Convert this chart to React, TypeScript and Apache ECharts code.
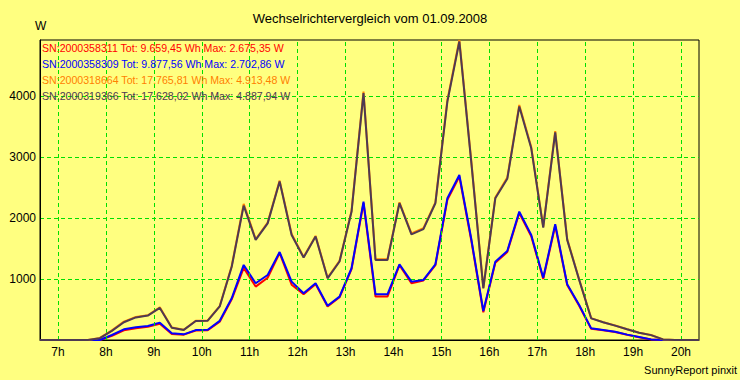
import React, { useEffect, useRef } from "react";
import * as echarts from "echarts";

const FONT = "'Liberation Sans', Arial, sans-serif";

const times = [
  "06:37:30", "06:52:30", "07:07:30", "07:22:30", "07:37:30", "07:52:30",
  "08:07:30", "08:22:30", "08:37:30", "08:52:30", "09:07:30", "09:22:30", "09:37:30", "09:52:30",
  "10:07:30", "10:22:30", "10:37:30", "10:52:30", "11:07:30", "11:22:30", "11:37:30", "11:52:30",
  "12:07:30", "12:22:30", "12:37:30", "12:52:30", "13:07:30", "13:22:30", "13:37:30", "13:52:30",
  "14:07:30", "14:22:30", "14:37:30", "14:52:30", "15:07:30", "15:22:30", "15:37:30", "15:52:30",
  "16:07:30", "16:22:30", "16:37:30", "16:52:30", "17:07:30", "17:22:30", "17:37:30", "17:52:30",
  "18:07:30", "18:22:30", "18:37:30", "18:52:30", "19:07:30", "19:22:30", "19:37:30", "19:52:30",
  "20:07:30", "20:22:30",
];

const sn311 = [
  0, 0, 0, 0, 0, 0,
  70, 160, 192, 215, 265, 98, 88, 155, 160, 300,
  665, 1180, 875, 1020, 1425, 905, 750, 915, 548, 700,
  1160, 2240, 712, 712, 1225, 930, 975, 1225, 2295, 2675.35,
  1625, 455, 1265, 1440, 2080, 1700, 1000, 1870, 900, 560,
  185, 160, 130, 85, 45, 8, 0, 0, 0, 0,
];
const sn309 = [
  0, 0, 0, 0, 0, 0,
  82, 175, 208, 230, 284, 109, 93, 162, 167, 314,
  683, 1229, 929, 1065, 1440, 956, 765, 929, 562, 710,
  1175, 2267, 749, 749, 1240, 956, 983, 1240, 2322, 2702.86,
  1650, 475, 1283, 1459, 2103, 1721, 1021, 1896, 913, 574,
  191, 164, 136, 88, 50, 10, 0, 0, 0, 0,
];
const sn664 = [
  0, 0, 0, 0, 0, 35,
  160, 300, 378, 405, 535, 205, 168, 316, 320, 556,
  1212, 2230, 1650, 1925, 2610, 1735, 1360, 1705, 1020, 1295,
  2115, 4070, 1322, 1322, 2255, 1745, 1830, 2255, 3930, 4913.48,
  2920, 855, 2335, 2660, 3850, 3160, 1852, 3420, 1652, 992,
  358, 292, 237, 176, 119, 81, 10, 0, 0, 0,
];
const sn366 = [
  0, 0, 0, 0, 0, 30,
  150, 290, 370, 400, 525, 200, 165, 311, 316, 550,
  1200, 2200, 1640, 1910, 2595, 1720, 1350, 1695, 1010, 1285,
  2100, 4045, 1310, 1310, 2240, 1730, 1815, 2240, 3905, 4887.94,
  2900, 847, 2320, 2640, 3825, 3140, 1840, 3400, 1640, 985,
  355, 290, 235, 175, 118, 80, 10, 0, 0, 0,
];

const seriesValues = [sn311, sn309, sn664, sn366];
const seriesColors = ["#FF0000", "#0000FF", "#FF8000", "#4E3A52"];
const legendTexts = [
  "SN:2000358311 Tot: 9.659,45 Wh Max: 2.675,35 W",
  "SN:2000358309 Tot: 9.877,56 Wh Max: 2.702,86 W",
  "SN:2000318664 Tot: 17.765,81 Wh Max: 4.913,48 W",
  "SN:2000319366 Tot: 17.628,02 Wh Max: 4.887,94 W",
];
const hourTicks = [7, 8, 9, 10, 11, 12, 13, 14, 15, 16, 17, 18, 19, 20];
const yTicks = [1000, 2000, 3000, 4000];
const titleText = "Wechselrichtervergleich vom 01.09.2008";
const unitText = "W";
const footerText = "SunnyReport pinxit";

const GRID = "#00E000";

export default function App() {
  const ref = useRef<HTMLDivElement>(null);
  useEffect(() => {
    if (!ref.current) return;
    const chart = echarts.init(ref.current, undefined, { renderer: "svg" });
    const toHours = (s: string) => {
      const [h, m, sec] = s.split(":").map(Number);
      return h + m / 60 + sec / 3600;
    };
    const xs = times.map(toHours);
    const xMin = xs[0];
    const xMax = xs[xs.length - 1];
    const yMax = Math.max(...seriesValues.map((a) => Math.max(...a)));

    const lineSeries = seriesValues.map((vals, i) => ({
      type: "line",
      name: legendTexts[i],
      data: vals.map((v, j) => [xs[j], v]),
      symbol: "none",
      showSymbol: false,
      silent: true,
      z: 3 + i,
      lineStyle: { color: seriesColors[i], width: 2 },
      itemStyle: { color: seriesColors[i] },
    }));

    const option: any = {
      animation: false,
      backgroundColor: "#FFFF80",
      textStyle: { fontFamily: FONT },
      title: {
        text: titleText,
        left: "center",
        top: 12,
        padding: 0,
        textStyle: { fontSize: 13, fontWeight: "normal", color: "#000", fontFamily: FONT },
      },
      grid: {
        left: 40,
        top: 40,
        width: 659,
        height: 300,
        show: true,
        borderColor: "#000",
        borderWidth: 1,
        backgroundColor: "transparent",
      },
      xAxis: {
        type: "value",
        min: xMin,
        max: xMax,
        axisLine: { show: true, lineStyle: { color: "#000", width: 1 } },
        axisTick: { show: false },
        splitLine: { show: false },
        axisLabel: {
          customValues: hourTicks,
          formatter: (v: number) => `${v}h`,
          color: "#000",
          fontSize: 12,
          margin: 6,
          fontFamily: FONT,
        },
      },
      yAxis: {
        type: "value",
        min: 0,
        max: yMax,
        interval: 1000,
        axisLine: { show: true, lineStyle: { color: "#000", width: 1 } },
        axisTick: { show: false },
        axisLabel: {
          color: "#000",
          fontSize: 12,
          margin: 4,
          fontFamily: FONT,
          formatter: (v: number) => (yTicks.includes(v) ? String(v) : ""),
        },
        splitLine: {
          show: true,
          showMinLine: false,
          showMaxLine: false,
          lineStyle: { color: GRID, type: [4, 3], width: 1 },
        },
      },
      series: [
        {
          type: "line",
          data: [[xMin, 0]],
          symbol: "none",
          silent: true,
          z: 1,
          lineStyle: { opacity: 0 },
          markLine: {
            silent: true,
            symbol: ["none", "none"],
            label: { show: false },
            lineStyle: { color: GRID, type: [4, 3], width: 1 },
            data: hourTicks.map((h) => ({ xAxis: h })),
          },
        },
        ...lineSeries,
      ],
      graphic: [
        {
          type: "text",
          left: 35,
          top: 20,
          style: { text: unitText, fill: "#000", font: `12px ${FONT}` },
        },
        ...legendTexts.map((t, i) => ({
          type: "text",
          left: 42,
          top: 42 + 16 * i,
          z: 10,
          style: { text: t, fill: seriesColors[i], font: `10.6px ${FONT}` },
        })),
        {
          type: "text",
          right: 3,
          top: 364,
          style: { text: footerText, fill: "#000", font: `11px ${FONT}` },
        },
      ],
    };
    chart.setOption(option);
    return () => chart.dispose();
  }, []);
  return (
    <div
      ref={ref}
      style={{ position: "absolute", left: 0, top: 0, width: 740, height: 380 }}
    />
  );
}
